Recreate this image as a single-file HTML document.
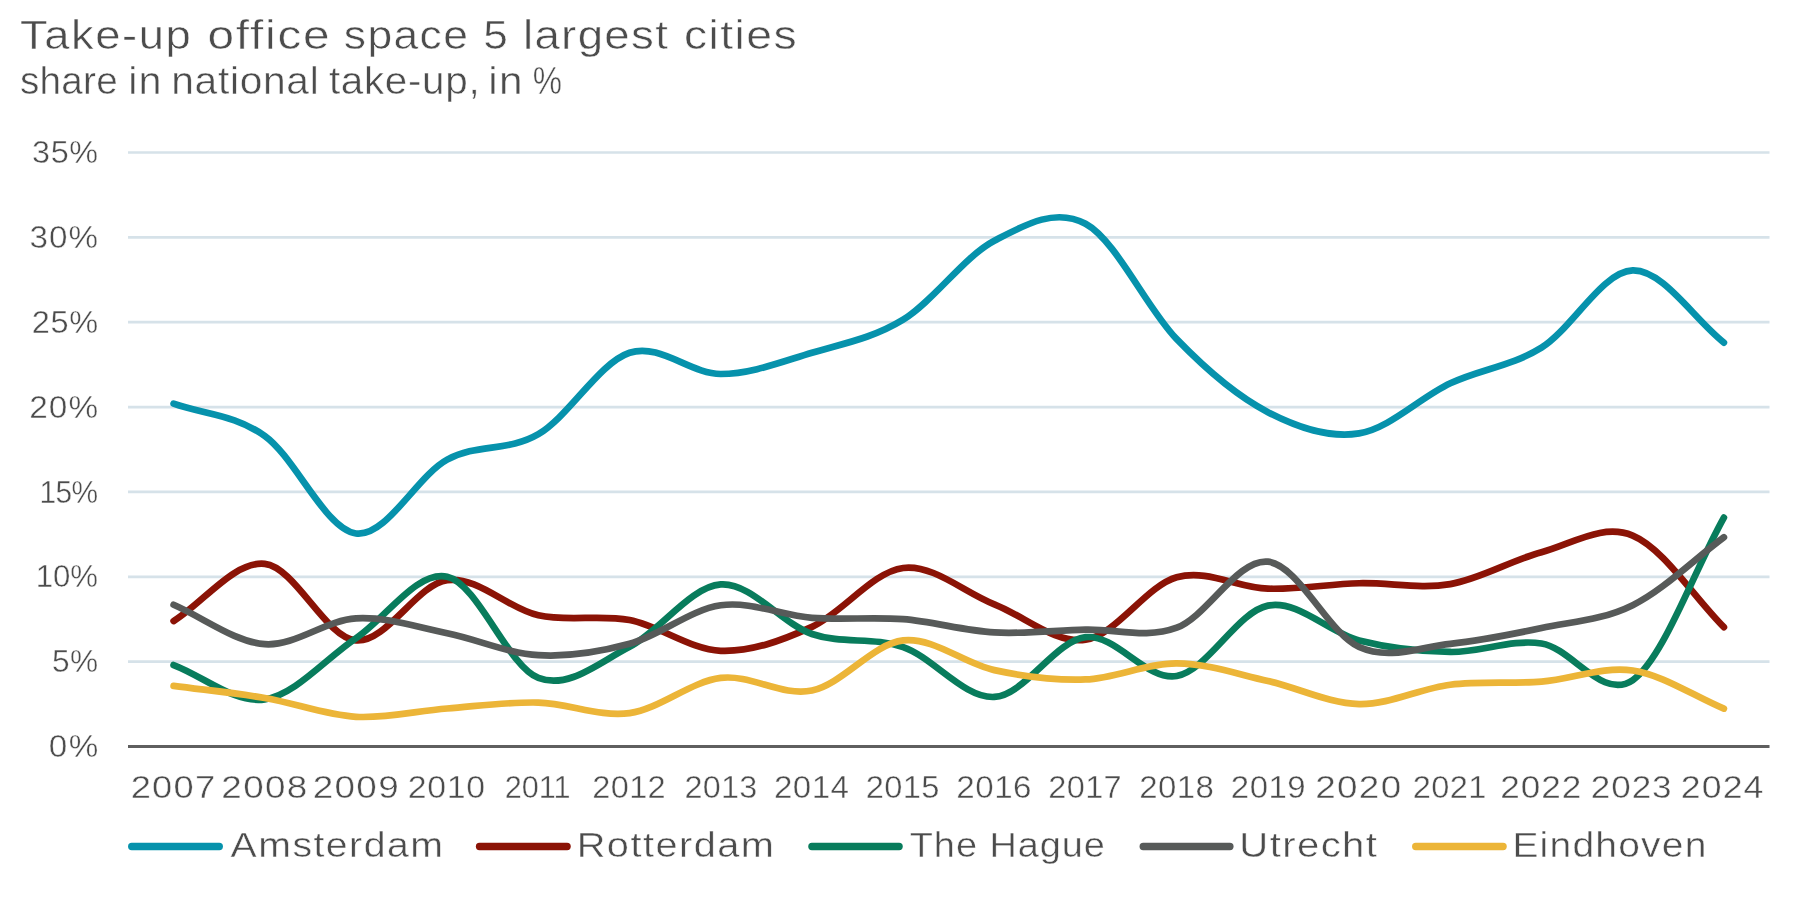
<!DOCTYPE html>
<html lang="en"><head><meta charset="utf-8"><title>Take-up office space 5 largest cities</title>
<style>
html,body{margin:0;padding:0;background:#fff;}
body{width:1820px;height:910px;overflow:hidden;font-family:"Liberation Sans",sans-serif;}
svg{display:block;will-change:transform;font-family:"Liberation Sans",sans-serif;}
svg text{white-space:pre;}
</style></head><body>
<svg width="1820" height="910" viewBox="0 0 1820 910">
<rect width="1820" height="910" fill="#ffffff"/>
<g id="title">
<text transform="translate(19.98 48.80) scale(1.1215 1)" font-size="40.50" letter-spacing="1.376" fill="#4c4c4c" stroke="#ffffff" stroke-width="0.53">Take-up</text>
<text transform="translate(207.47 48.80) scale(1.1788 1)" font-size="40.50" letter-spacing="1.512" fill="#4c4c4c" stroke="#ffffff" stroke-width="0.53">office</text>
<text transform="translate(343.78 48.80) scale(1.0976 1)" font-size="40.50" letter-spacing="1.260" fill="#4c4c4c" stroke="#ffffff" stroke-width="0.53">space</text>
<text transform="translate(483.23 48.80) scale(1.0916 1)" font-size="40.50" letter-spacing="0.000" fill="#4c4c4c" stroke="#ffffff" stroke-width="0.53">5</text>
<text transform="translate(522.92 48.80) scale(1.1264 1)" font-size="40.50" letter-spacing="1.193" fill="#4c4c4c" stroke="#ffffff" stroke-width="0.53">largest</text>
<text transform="translate(684.03 48.80) scale(1.1452 1)" font-size="40.50" letter-spacing="1.216" fill="#4c4c4c" stroke="#ffffff" stroke-width="0.53">cities</text>
</g>
<g id="subtitle">
<text transform="translate(19.94 93.80) scale(1.0187 1)" font-size="38.00" letter-spacing="0.228" fill="#4c4c4c" stroke="#ffffff" stroke-width="0.49">share</text>
<text transform="translate(128.20 93.80) scale(1.0897 1)" font-size="38.00" letter-spacing="1.090" fill="#4c4c4c" stroke="#ffffff" stroke-width="0.49">in</text>
<text transform="translate(171.25 93.80) scale(1.0713 1)" font-size="38.00" letter-spacing="0.655" fill="#4c4c4c" stroke="#ffffff" stroke-width="0.49">national</text>
<text transform="translate(328.89 93.80) scale(1.0644 1)" font-size="38.00" letter-spacing="0.621" fill="#4c4c4c" stroke="#ffffff" stroke-width="0.49">take-up,</text>
<text transform="translate(488.14 93.80) scale(1.1161 1)" font-size="38.00" letter-spacing="1.378" fill="#4c4c4c" stroke="#ffffff" stroke-width="0.49">in</text>
<text transform="translate(532.85 93.80) scale(0.8665 1)" font-size="38.00" letter-spacing="0.000" fill="#4c4c4c" stroke="#ffffff" stroke-width="0.49">%</text>
</g>
<g id="grid" stroke="#d6e2e9" stroke-width="2.7">
<line x1="128.0" y1="661.64" x2="1769.5" y2="661.64"/>
<line x1="128.0" y1="576.79" x2="1769.5" y2="576.79"/>
<line x1="128.0" y1="491.93" x2="1769.5" y2="491.93"/>
<line x1="128.0" y1="407.07" x2="1769.5" y2="407.07"/>
<line x1="128.0" y1="322.21" x2="1769.5" y2="322.21"/>
<line x1="128.0" y1="237.36" x2="1769.5" y2="237.36"/>
<line x1="128.0" y1="152.50" x2="1769.5" y2="152.50"/>
</g>
<g id="ylabels">
<text transform="translate(32.09 163.10) scale(1.0376 1)" font-size="31.20" letter-spacing="0.588" fill="#4c4c4c" stroke="#ffffff" stroke-width="0.41">35%</text>
<text transform="translate(29.55 247.96) scale(1.0646 1)" font-size="31.20" letter-spacing="0.984" fill="#4c4c4c" stroke="#ffffff" stroke-width="0.41">30%</text>
<text transform="translate(31.67 332.81) scale(1.0421 1)" font-size="31.20" letter-spacing="0.651" fill="#4c4c4c" stroke="#ffffff" stroke-width="0.41">25%</text>
<text transform="translate(29.13 417.67) scale(1.0693 1)" font-size="31.20" letter-spacing="1.043" fill="#4c4c4c" stroke="#ffffff" stroke-width="0.41">20%</text>
<text transform="translate(39.46 502.53) scale(0.9588 1)" font-size="31.20" letter-spacing="-0.684" fill="#4c4c4c" stroke="#ffffff" stroke-width="0.41">15%</text>
<text transform="translate(35.66 587.39) scale(0.9995 1)" font-size="31.20" letter-spacing="-0.008" fill="#4c4c4c" stroke="#ffffff" stroke-width="0.41">10%</text>
<text transform="translate(52.03 672.24) scale(1.0145 1)" font-size="31.20" letter-spacing="0.330" fill="#4c4c4c" stroke="#ffffff" stroke-width="0.41">5%</text>
<text transform="translate(48.67 757.10) scale(1.0647 1)" font-size="31.20" letter-spacing="1.399" fill="#4c4c4c" stroke="#ffffff" stroke-width="0.41">0%</text>
</g>
<g id="series" fill="none" stroke-width="6.7" stroke-linecap="round" stroke-linejoin="round">
<path stroke="#0692ac" d="M173.60 403.68 C204.00 414.43 234.39 414.28 264.79 435.92 C295.19 457.56 325.59 529.55 355.99 533.51 C386.38 537.47 416.78 476.23 447.18 459.68 C477.58 443.14 507.98 452.05 538.38 434.23 C568.77 416.41 599.17 362.80 629.57 352.76 C659.97 342.72 690.37 373.98 720.76 373.98 C751.16 373.98 781.56 361.81 811.96 352.76 C842.36 343.71 872.75 338.34 903.15 319.67 C933.55 301.00 963.95 256.73 994.35 240.75 C1024.75 224.77 1055.14 207.37 1085.54 223.78 C1115.94 240.19 1146.34 307.79 1176.74 339.19 C1207.13 370.58 1237.53 396.46 1267.93 412.16 C1298.33 427.86 1328.73 438.19 1359.12 433.38 C1389.52 428.57 1419.92 397.60 1450.32 383.31 C1480.72 369.03 1511.12 366.48 1541.51 347.67 C1571.91 328.86 1602.31 271.30 1632.71 270.45 C1663.11 269.60 1693.50 318.54 1723.90 342.58"/>
<path stroke="#8b1306" d="M173.60 621.08 C204.00 602.02 234.39 560.66 264.79 563.89 C295.19 567.11 325.59 637.71 355.99 640.43 C386.38 643.14 416.78 584.37 447.18 580.18 C477.58 575.99 507.98 608.66 538.38 615.31 C568.77 621.96 599.17 614.15 629.57 620.06 C659.97 625.97 690.37 649.65 720.76 650.78 C751.16 651.91 781.56 640.65 811.96 626.85 C842.36 613.05 872.75 571.72 903.15 567.96 C933.55 564.20 963.95 592.31 994.35 604.28 C1024.75 616.24 1055.14 644.25 1085.54 639.75 C1115.94 635.25 1146.34 585.81 1176.74 577.29 C1207.13 568.78 1237.53 587.68 1267.93 588.67 C1298.33 589.66 1328.73 584.00 1359.12 583.23 C1389.52 582.47 1419.92 589.26 1450.32 584.08 C1480.72 578.91 1511.12 560.27 1541.51 552.18 C1571.91 544.09 1602.31 523.04 1632.71 535.55 C1663.11 548.05 1693.50 596.64 1723.90 627.19"/>
<path stroke="#087c5c" d="M173.60 665.04 C204.00 676.46 234.39 703.79 264.79 699.32 C295.19 694.85 325.59 658.64 355.99 638.22 C386.38 617.80 416.78 570.17 447.18 576.79 C477.58 583.40 507.98 666.28 538.38 677.94 C568.77 689.59 599.17 662.29 629.57 646.71 C659.97 631.12 690.37 586.54 720.76 584.42 C751.16 582.30 781.56 623.54 811.96 633.98 C842.36 644.42 872.75 636.55 903.15 647.05 C933.55 657.54 963.95 698.58 994.35 696.94 C1024.75 695.30 1055.14 640.68 1085.54 637.20 C1115.94 633.72 1146.34 681.33 1176.74 676.07 C1207.13 670.81 1237.53 611.58 1267.93 605.64 C1298.33 599.70 1328.73 632.71 1359.12 640.43 C1389.52 648.15 1419.92 651.46 1450.32 651.97 C1480.72 652.48 1511.12 638.79 1541.51 643.48 C1571.91 648.18 1602.31 701.13 1632.71 680.14 C1663.11 659.15 1693.50 571.75 1723.90 517.56"/>
<path stroke="#575a59" d="M173.60 604.79 C204.00 617.91 234.39 641.90 264.79 644.16 C295.19 646.43 325.59 620.18 355.99 618.37 C386.38 616.56 416.78 627.16 447.18 633.30 C477.58 639.44 507.98 653.44 538.38 655.19 C568.77 656.95 599.17 652.14 629.57 643.82 C659.97 635.51 690.37 609.63 720.76 605.30 C751.16 600.97 781.56 615.54 811.96 617.86 C842.36 620.18 872.75 616.78 903.15 619.21 C933.55 621.65 963.95 630.73 994.35 632.45 C1024.75 634.18 1055.14 630.36 1085.54 629.57 C1115.94 628.77 1146.34 639.01 1176.74 627.70 C1207.13 616.39 1237.53 558.46 1267.93 561.68 C1298.33 564.91 1328.73 633.36 1359.12 647.05 C1389.52 660.74 1419.92 646.99 1450.32 643.82 C1480.72 640.65 1511.12 634.49 1541.51 628.04 C1571.91 621.59 1602.31 620.26 1632.71 605.13 C1663.11 590.00 1693.50 559.87 1723.90 537.24"/>
<path stroke="#ecb538" d="M173.60 685.91 C204.00 689.93 234.39 692.81 264.79 697.96 C295.19 703.11 325.59 715.05 355.99 716.80 C386.38 718.55 416.78 710.86 447.18 708.48 C477.58 706.11 507.98 701.78 538.38 702.54 C568.77 703.31 599.17 717.17 629.57 713.07 C659.97 708.96 690.37 681.70 720.76 677.94 C751.16 674.17 781.56 696.75 811.96 690.49 C842.36 684.24 872.75 643.82 903.15 640.43 C933.55 637.03 963.95 663.62 994.35 670.13 C1024.75 676.63 1055.14 680.59 1085.54 679.46 C1115.94 678.33 1146.34 663.09 1176.74 663.34 C1207.13 663.59 1237.53 674.20 1267.93 680.99 C1298.33 687.78 1328.73 703.45 1359.12 704.07 C1389.52 704.69 1419.92 688.46 1450.32 684.72 C1480.72 680.99 1511.12 684.05 1541.51 681.67 C1571.91 679.29 1602.31 665.97 1632.71 670.47 C1663.11 674.97 1693.50 695.93 1723.90 708.65"/>
</g>
<line x1="128.0" y1="746.50" x2="1769.5" y2="746.50" stroke="#5f5f5f" stroke-width="2.9"/>
<g id="xlabels">
<text transform="translate(130.68 798.00) scale(1.1651 1)" font-size="31.20" letter-spacing="1.043" fill="#4c4c4c" stroke="#ffffff" stroke-width="0.41">2007</text>
<text transform="translate(221.36 798.00) scale(1.1799 1)" font-size="31.20" letter-spacing="1.126" fill="#4c4c4c" stroke="#ffffff" stroke-width="0.41">2008</text>
<text transform="translate(312.66 798.00) scale(1.1822 1)" font-size="31.20" letter-spacing="1.136" fill="#4c4c4c" stroke="#ffffff" stroke-width="0.41">2009</text>
<text transform="translate(407.81 798.00) scale(1.0854 1)" font-size="31.20" letter-spacing="0.583" fill="#4c4c4c" stroke="#ffffff" stroke-width="0.41">2010</text>
<text transform="translate(504.87 798.00) scale(0.9832 1)" font-size="31.20" letter-spacing="-0.122" fill="#4c4c4c" stroke="#ffffff" stroke-width="0.41">2011</text>
<text transform="translate(592.37 798.00) scale(1.0428 1)" font-size="31.20" letter-spacing="0.302" fill="#4c4c4c" stroke="#ffffff" stroke-width="0.41">2012</text>
<text transform="translate(684.38 798.00) scale(1.0377 1)" font-size="31.20" letter-spacing="0.269" fill="#4c4c4c" stroke="#ffffff" stroke-width="0.41">2013</text>
<text transform="translate(773.94 798.00) scale(1.0614 1)" font-size="31.20" letter-spacing="0.430" fill="#4c4c4c" stroke="#ffffff" stroke-width="0.41">2014</text>
<text transform="translate(865.67 798.00) scale(1.0470 1)" font-size="31.20" letter-spacing="0.332" fill="#4c4c4c" stroke="#ffffff" stroke-width="0.41">2015</text>
<text transform="translate(956.34 798.00) scale(1.0626 1)" font-size="31.20" letter-spacing="0.435" fill="#4c4c4c" stroke="#ffffff" stroke-width="0.41">2016</text>
<text transform="translate(1048.37 798.00) scale(1.0428 1)" font-size="31.20" letter-spacing="0.302" fill="#4c4c4c" stroke="#ffffff" stroke-width="0.41">2017</text>
<text transform="translate(1139.35 798.00) scale(1.0569 1)" font-size="31.20" letter-spacing="0.398" fill="#4c4c4c" stroke="#ffffff" stroke-width="0.41">2018</text>
<text transform="translate(1230.85 798.00) scale(1.0579 1)" font-size="31.20" letter-spacing="0.403" fill="#4c4c4c" stroke="#ffffff" stroke-width="0.41">2019</text>
<text transform="translate(1315.16 798.00) scale(1.1811 1)" font-size="31.20" letter-spacing="1.135" fill="#4c4c4c" stroke="#ffffff" stroke-width="0.41">2020</text>
<text transform="translate(1412.87 798.00) scale(1.0452 1)" font-size="31.20" letter-spacing="0.319" fill="#4c4c4c" stroke="#ffffff" stroke-width="0.41">2021</text>
<text transform="translate(1500.24 798.00) scale(1.1266 1)" font-size="31.20" letter-spacing="0.827" fill="#4c4c4c" stroke="#ffffff" stroke-width="0.41">2022</text>
<text transform="translate(1590.85 798.00) scale(1.1235 1)" font-size="31.20" letter-spacing="0.812" fill="#4c4c4c" stroke="#ffffff" stroke-width="0.41">2023</text>
<text transform="translate(1680.81 798.00) scale(1.1443 1)" font-size="31.20" letter-spacing="0.938" fill="#4c4c4c" stroke="#ffffff" stroke-width="0.41">2024</text>
</g>
<g id="legend">
<line x1="131.7" y1="846.5" x2="219.3" y2="846.5" stroke="#0692ac" stroke-width="7.3" stroke-linecap="round"/>
<text transform="translate(230.60 857.30) scale(1.1219 1)" font-size="35.00" letter-spacing="1.292" fill="#4c4c4c" stroke="#ffffff" stroke-width="0.45">Amsterdam</text>
<line x1="479.5" y1="846.5" x2="567.1" y2="846.5" stroke="#8b1306" stroke-width="7.3" stroke-linecap="round"/>
<text transform="translate(576.72 857.30) scale(1.1360 1)" font-size="35.00" letter-spacing="1.275" fill="#4c4c4c" stroke="#ffffff" stroke-width="0.45">Rotterdam</text>
<line x1="811.9" y1="846.5" x2="899.1" y2="846.5" stroke="#087c5c" stroke-width="7.3" stroke-linecap="round"/>
<text transform="translate(909.75 857.30) scale(1.0833 1)" font-size="35.00" letter-spacing="0.885" fill="#4c4c4c" stroke="#ffffff" stroke-width="0.45">The Hague</text>
<line x1="1143.2" y1="846.5" x2="1229.9" y2="846.5" stroke="#575a59" stroke-width="7.3" stroke-linecap="round"/>
<text transform="translate(1239.30 857.30) scale(1.1444 1)" font-size="35.00" letter-spacing="1.243" fill="#4c4c4c" stroke="#ffffff" stroke-width="0.45">Utrecht</text>
<line x1="1415.7" y1="846.5" x2="1503.1" y2="846.5" stroke="#ecb538" stroke-width="7.3" stroke-linecap="round"/>
<text transform="translate(1512.38 857.30) scale(1.1139 1)" font-size="35.00" letter-spacing="1.104" fill="#4c4c4c" stroke="#ffffff" stroke-width="0.45">Eindhoven</text>
</g>
</svg>
</body></html>
